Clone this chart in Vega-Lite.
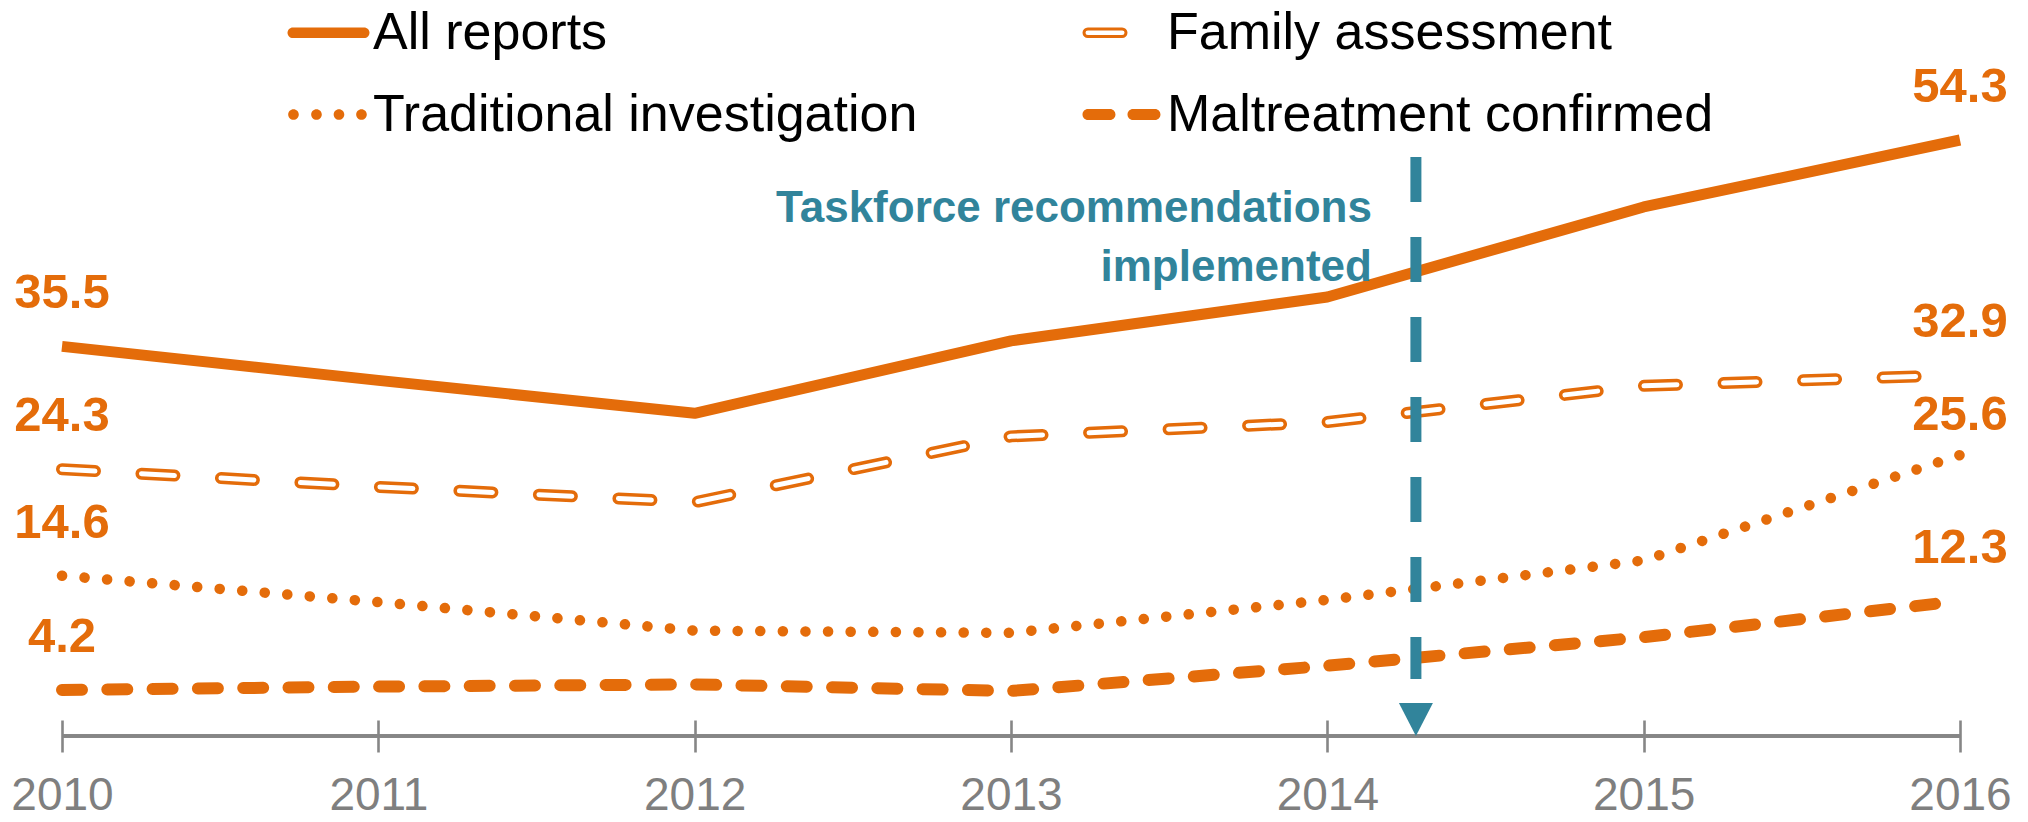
{
  "$schema": "https://vega.github.io/schema/vega-lite/v6.json",
  "width": 1898,
  "height": 736,
  "autosize": {"type": "none"},
  "padding": {"left": 62, "right": 68, "top": 0, "bottom": 86},
  "background": "white",
  "config": {"view": {"stroke": null}, "font": "Liberation Sans"},
  "data": {
    "values": [
      {"year": 2010, "series": "All reports", "value": 35.5},
      {"year": 2011, "series": "All reports", "value": 32.4},
      {"year": 2012, "series": "All reports", "value": 29.4},
      {"year": 2013, "series": "All reports", "value": 36.0},
      {"year": 2014, "series": "All reports", "value": 40.0},
      {"year": 2015, "series": "All reports", "value": 48.2},
      {"year": 2016, "series": "All reports", "value": 54.3},
      {"year": 2010, "series": "Family assessment", "value": 24.3},
      {"year": 2011, "series": "Family assessment", "value": 22.7},
      {"year": 2012, "series": "Family assessment", "value": 21.3},
      {"year": 2013, "series": "Family assessment", "value": 27.3},
      {"year": 2014, "series": "Family assessment", "value": 28.6},
      {"year": 2015, "series": "Family assessment", "value": 31.9},
      {"year": 2016, "series": "Family assessment", "value": 32.9},
      {"year": 2010, "series": "Traditional investigation", "value": 14.6},
      {"year": 2011, "series": "Traditional investigation", "value": 12.2},
      {"year": 2012, "series": "Traditional investigation", "value": 9.6},
      {"year": 2013, "series": "Traditional investigation", "value": 9.4},
      {"year": 2014, "series": "Traditional investigation", "value": 12.4},
      {"year": 2015, "series": "Traditional investigation", "value": 16.0},
      {"year": 2016, "series": "Traditional investigation", "value": 25.6},
      {"year": 2010, "series": "Maltreatment confirmed", "value": 4.2},
      {"year": 2011, "series": "Maltreatment confirmed", "value": 4.5},
      {"year": 2012, "series": "Maltreatment confirmed", "value": 4.7},
      {"year": 2013, "series": "Maltreatment confirmed", "value": 4.1},
      {"year": 2014, "series": "Maltreatment confirmed", "value": 6.4},
      {"year": 2015, "series": "Maltreatment confirmed", "value": 9.0},
      {"year": 2016, "series": "Maltreatment confirmed", "value": 12.3}
    ]
  },
  "encoding": {
    "x": {
      "field": "year",
      "type": "quantitative",
      "scale": {"domain": [2010, 2016], "nice": false, "zero": false},
      "axis": {
        "values": [2010, 2011, 2012, 2013, 2014, 2015, 2016],
        "format": "d",
        "title": null,
        "grid": false,
        "domain": false,
        "offset": -16,
        "tickSize": 32,
        "tickWidth": 2.6,
        "tickColor": "#868686",
        "labelFont": "Liberation Sans",
        "labelFontSize": 46,
        "labelColor": "#7f7f7f",
        "labelBaseline": "alphabetic",
        "labelPadding": 57,
        "labelFlush": false,
        "labelOverlap": false
      }
    },
    "y": {
      "field": "value",
      "type": "quantitative",
      "scale": {"domain": [0, 67.055], "nice": false, "zero": true},
      "axis": null
    }
  },
  "layer": [
    {
      "mark": {"type": "rule", "color": "#868686", "strokeWidth": 2.7},
      "encoding": {"x": {"datum": 2010}, "x2": {"datum": 2016}, "y": {"datum": 0}}
    },
    {
      "transform": [{"filter": "datum.series == 'All reports'"}],
      "mark": {"type": "line", "color": "#E46C0A", "strokeWidth": 11, "strokeCap": "butt", "strokeJoin": "round"}
    },
    {
      "transform": [{"filter": "datum.series == 'Family assessment'"}],
      "mark": {"type": "line", "color": "#E46C0A", "strokeWidth": 12, "strokeCap": "round", "strokeDash": [33, 46.6]}
    },
    {
      "transform": [{"filter": "datum.series == 'Family assessment'"}],
      "mark": {"type": "line", "color": "#ffffff", "strokeWidth": 5, "strokeCap": "round", "strokeDash": [33, 46.6]}
    },
    {
      "transform": [{"filter": "datum.series == 'Traditional investigation'"}],
      "mark": {"type": "line", "color": "#E46C0A", "strokeWidth": 10.5, "strokeCap": "round", "strokeDash": [0.1, 22.5]}
    },
    {
      "transform": [{"filter": "datum.series == 'Maltreatment confirmed'"}],
      "mark": {"type": "line", "color": "#E46C0A", "strokeWidth": 12, "strokeCap": "round", "strokeDash": [20, 25.3]}
    },
    {
      "transform": [{"filter": "(datum.year == 2010 || datum.year == 2016) && !(datum.year == 2016 && datum.series == 'Traditional investigation')"}],
      "mark": {"type": "text", "font": "Liberation Sans", "fontWeight": "bold", "fontSize": 49, "color": "#E46C0A", "align": "center", "baseline": "alphabetic", "dy": -38},
      "encoding": {"text": {"field": "value", "type": "quantitative", "format": ".1f"}}
    },
    {
      "transform": [{"filter": "datum.year == 2016 && datum.series == 'Traditional investigation'"}],
      "mark": {"type": "text", "font": "Liberation Sans", "fontWeight": "bold", "fontSize": 49, "color": "#E46C0A", "align": "center", "baseline": "alphabetic", "dy": -25},
      "encoding": {"text": {"field": "value", "type": "quantitative", "format": ".1f"}}
    },
    {
      "transform": [{"filter": "datum.series == 'All reports' && datum.year == 2014"}],
      "mark": {"type": "rule", "color": "#31849B", "strokeWidth": 11, "strokeCap": "butt", "strokeDash": [45, 35]},
      "encoding": {"x": {"datum": 2014.28}, "y": {"datum": 52.75}, "y2": {"datum": 5.19}}
    },
    {
      "transform": [{"filter": "datum.series == 'All reports' && datum.year == 2014"}],
      "mark": {"type": "point", "shape": "M-1,-0.97L1,-0.97L0,0.97Z", "filled": true, "color": "#31849B", "opacity": 1, "size": 1156},
      "encoding": {"x": {"datum": 2014.28}, "y": {"datum": 1.5}}
    },
    {
      "transform": [{"filter": "datum.series == 'All reports' && datum.year == 2014"}],
      "mark": {"type": "text", "font": "Liberation Sans", "fontWeight": "bold", "fontSize": 44, "color": "#31849B", "align": "right", "baseline": "alphabetic", "lineHeight": 59, "dx": -44},
      "encoding": {"x": {"datum": 2014.28}, "y": {"datum": 46.8}, "text": {"value": ["Taskforce recommendations", "implemented"]}}
    },
    {
      "transform": [{"filter": "datum.value < 0"}],
      "mark": {"type": "point", "filled": true},
      "encoding": {
        "shape": {
          "field": "series",
          "type": "nominal",
          "scale": {
            "domain": ["All reports", "Traditional investigation", "Family assessment", "Maltreatment confirmed"],
            "range": [
              "M-0.792,-0.119L0.792,-0.119A0.119,0.119,0,0,1,0.792,0.119L-0.792,0.119A0.119,0.119,0,0,1,-0.792,-0.119Z",
              "M-0.896,0A0.118,0.118,0,1,0,-0.66,0A0.118,0.118,0,1,0,-0.896,0ZM-0.385,0A0.118,0.118,0,1,0,-0.149,0A0.118,0.118,0,1,0,-0.385,0ZM0.115,0A0.118,0.118,0,1,0,0.351,0A0.118,0.118,0,1,0,0.115,0ZM0.615,0A0.118,0.118,0,1,0,0.851,0A0.118,0.118,0,1,0,0.615,0Z",
              "M-0.77,-0.0856L-0.008,-0.0856A0.0856,0.0856,0,0,1,-0.008,0.0856L-0.77,0.0856A0.0856,0.0856,0,0,1,-0.77,-0.0856Z",
              "M-0.767,-0.122L-0.278,-0.122A0.122,0.122,0,0,1,-0.278,0.122L-0.767,0.122A0.122,0.122,0,0,1,-0.767,-0.122ZM0.233,-0.122L0.722,-0.122A0.122,0.122,0,0,1,0.722,0.122L0.233,0.122A0.122,0.122,0,0,1,0.233,-0.122Z"
            ]
          },
          "legend": {
            "orient": "none",
            "legendX": 220,
            "legendY": -14,
            "columns": 2,
            "columnPadding": 158,
            "rowPadding": 9,
            "title": null,
            "padding": 0,
            "symbolSize": 8100,
            "symbolStrokeWidth": 3,
            "symbolOpacity": 1,
            "labelFont": "Liberation Sans",
            "labelFontSize": 52,
            "labelColor": "#000000",
            "labelLimit": 1000,
            "labelOffset": -2
          }
        },
        "fill": {
          "field": "series",
          "type": "nominal",
          "scale": {
            "domain": ["All reports", "Traditional investigation", "Family assessment", "Maltreatment confirmed"],
            "range": ["#E46C0A", "#E46C0A", "#ffffff", "#E46C0A"]
          }
        },
        "stroke": {
          "field": "series",
          "type": "nominal",
          "scale": {
            "domain": ["All reports", "Traditional investigation", "Family assessment", "Maltreatment confirmed"],
            "range": ["transparent", "transparent", "#E46C0A", "transparent"]
          }
        }
      }
    }
  ]
}
